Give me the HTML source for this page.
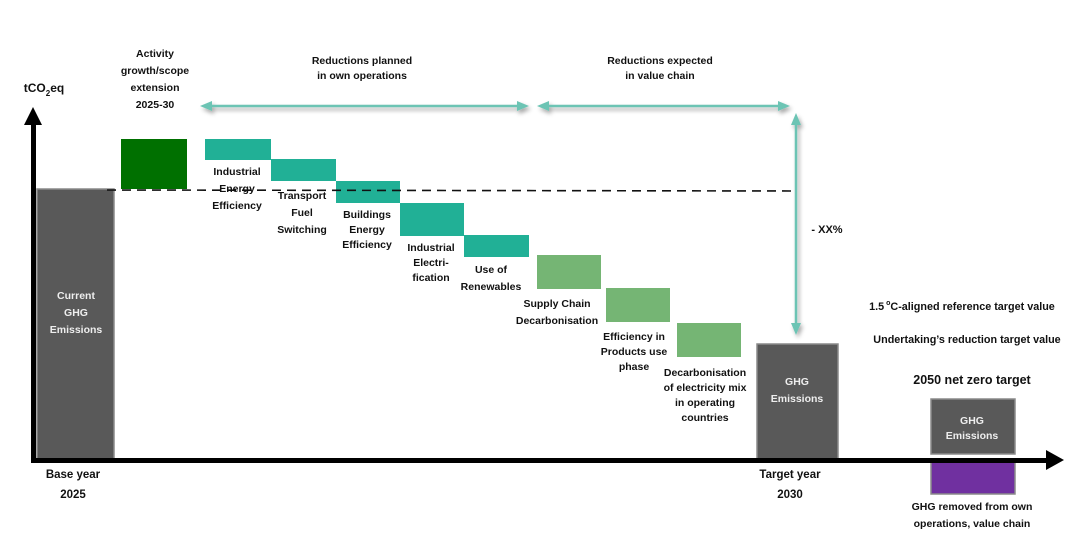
<!DOCTYPE html>
<html><head><meta charset="utf-8"><style>
html,body{margin:0;padding:0;background:#fff;width:1078px;height:550px;overflow:hidden}
svg text{font-family:"Liberation Sans",sans-serif;font-weight:bold;font-size:10.5px;fill:#111;text-anchor:middle}
</style></head><body>
<svg width="1078" height="550" xmlns="http://www.w3.org/2000/svg">
<defs>
<filter id="sh" x="-10%" y="-50%" width="120%" height="300%"><feDropShadow dx="2" dy="3" stdDeviation="2" flood-color="#000" flood-opacity="0.35"/></filter>
</defs>
<rect x="37" y="189" width="77" height="271" fill="#595959" stroke="#8a8a8a" stroke-width="1.5"/>
<rect x="121" y="139" width="66" height="50" fill="#007000"/>
<rect x="205" y="139" width="66" height="21" fill="#21b096"/>
<rect x="271" y="159" width="65" height="22" fill="#21b096"/>
<rect x="336" y="181" width="64" height="22" fill="#21b096"/>
<rect x="400" y="203" width="64" height="33" fill="#21b096"/>
<rect x="464" y="235" width="65" height="22" fill="#21b096"/>
<rect x="537" y="255" width="64" height="34" fill="#75b574"/>
<rect x="606" y="288" width="64" height="34" fill="#75b574"/>
<rect x="677" y="323" width="64" height="34" fill="#75b574"/>
<rect x="757" y="344" width="81" height="116" fill="#595959" stroke="#8a8a8a" stroke-width="1.5"/>
<rect x="931" y="399" width="84" height="55" fill="#595959" stroke="#8a8a8a" stroke-width="1.5"/>
<rect x="931" y="462" width="84" height="32" fill="#7030a0" stroke="#8a8a8a" stroke-width="1.5"/>
<line x1="781" y1="342" x2="856" y2="342" stroke="#75b574" stroke-width="2.5" filter="url(#sh)"/>
<line x1="107" y1="190" x2="795" y2="191" stroke="#111" stroke-width="1.6" stroke-dasharray="9,6"/>
<rect x="31" y="122" width="5" height="341" fill="#000"/>
<polygon points="24,125 42,125 33,107" fill="#000"/>
<rect x="31" y="458" width="1017" height="5" fill="#000"/>
<polygon points="1046,450 1046,470 1064,460" fill="#000"/>
<g filter="url(#sh)" stroke="#6cc4b4" fill="#6cc4b4">
<line x1="210" y1="106" x2="520" y2="106" stroke-width="2.5"/>
<polygon points="200,106 212,101 212,111" stroke="none"/>
<polygon points="529,106 517,101 517,111" stroke="none"/>
<line x1="547" y1="106" x2="781" y2="106" stroke-width="2.5"/>
<polygon points="537,106 549,101 549,111" stroke="none"/>
<polygon points="790,106 778,101 778,111" stroke="none"/>
<line x1="796" y1="122" x2="796" y2="325" stroke-width="2.5"/>
<polygon points="796,113 791,125 801,125" stroke="none"/>
<polygon points="796,335 791,323 801,323" stroke="none"/>
</g>
<text x="44" y="92" style="font-size:12px">tCO<tspan dy="4" style="font-size:8px">2</tspan><tspan dy="-4">eq</tspan></text>
<text x="155" y="57">Activity</text>
<text x="155" y="74">growth/scope</text>
<text x="155" y="91">extension</text>
<text x="155" y="108">2025-30</text>
<text x="362" y="64">Reductions planned</text>
<text x="362" y="79">in own operations</text>
<text x="660" y="64">Reductions expected</text>
<text x="660" y="79">in value chain</text>
<text x="237" y="175">Industrial</text>
<text x="237" y="192">Energy</text>
<text x="237" y="209">Efficiency</text>
<text x="302" y="199">Transport</text>
<text x="302" y="216">Fuel</text>
<text x="302" y="233">Switching</text>
<text x="367" y="218">Buildings</text>
<text x="367" y="233">Energy</text>
<text x="367" y="248">Efficiency</text>
<text x="431" y="251">Industrial</text>
<text x="431" y="266">Electri-</text>
<text x="431" y="281">fication</text>
<text x="491" y="273">Use of</text>
<text x="491" y="290">Renewables</text>
<text x="557" y="307">Supply Chain</text>
<text x="557" y="324">Decarbonisation</text>
<text x="634" y="340">Efficiency in</text>
<text x="634" y="355">Products use</text>
<text x="634" y="370">phase</text>
<text x="705" y="376">Decarbonisation</text>
<text x="705" y="391">of electricity mix</text>
<text x="705" y="406">in operating</text>
<text x="705" y="421">countries</text>
<text x="827" y="233" style="font-size:11px">- XX%</text>
<text x="76" y="299" style="fill:#eee">Current</text>
<text x="76" y="316" style="fill:#eee">GHG</text>
<text x="76" y="333" style="fill:#eee">Emissions</text>
<text x="797" y="385" style="fill:#eee">GHG</text>
<text x="797" y="402" style="fill:#eee">Emissions</text>
<text x="972" y="424" style="fill:#eee">GHG</text>
<text x="972" y="439" style="fill:#eee">Emissions</text>
<text x="962" y="310" style="font-size:10.8px">1.5<tspan dy="-5" style="font-size:7px"> o</tspan><tspan dy="5">C-aligned reference target value</tspan></text>
<text x="967" y="343" style="font-size:10.8px">Undertaking’s reduction target value</text>
<text x="972" y="384" style="font-size:12.5px">2050 net zero target</text>
<text x="73" y="478" style="font-size:11.5px">Base year</text>
<text x="73" y="498" style="font-size:11.5px">2025</text>
<text x="790" y="478" style="font-size:11.5px">Target year</text>
<text x="790" y="498" style="font-size:11.5px">2030</text>
<text x="972" y="510">GHG removed from own</text>
<text x="972" y="527">operations, value chain</text>
</svg>
</body></html>
